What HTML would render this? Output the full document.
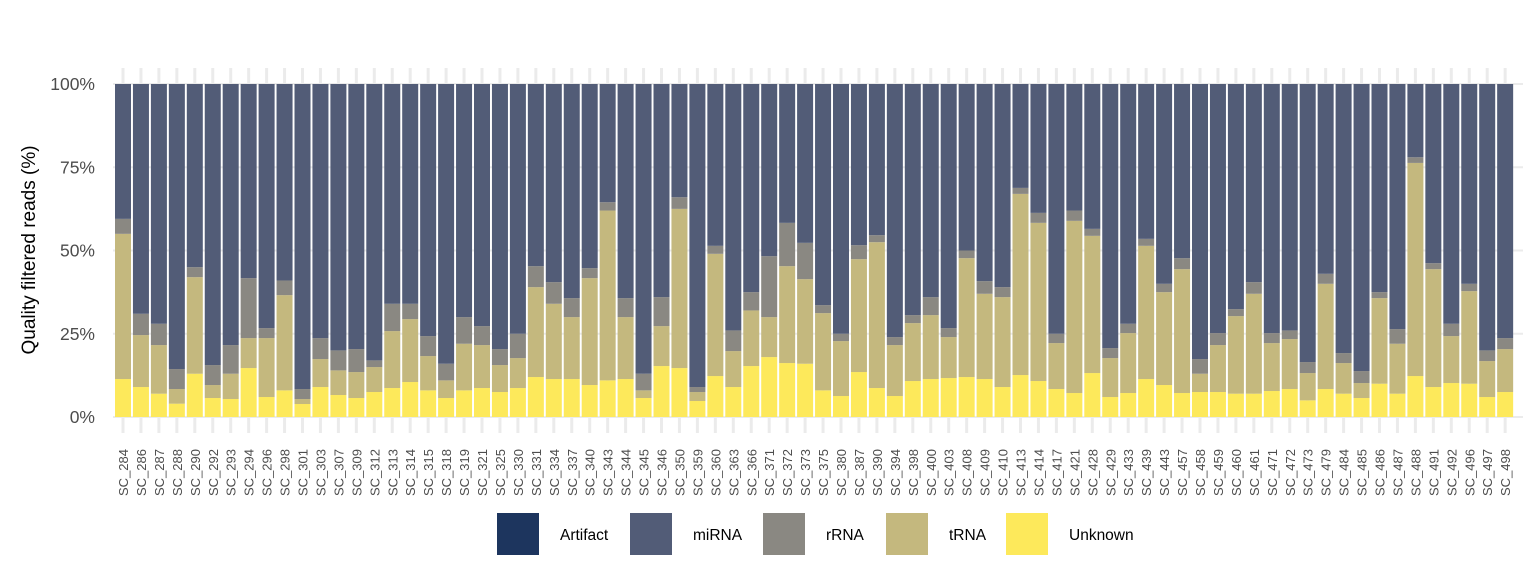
<!DOCTYPE html>
<html><head><meta charset="utf-8"><style>
body{margin:0;background:#fff;}
svg{display:block;font-family:"Liberation Sans",sans-serif;}
</style></head><body>
<svg id="chart" width="1536" height="576" viewBox="0 0 1536 576" xmlns="http://www.w3.org/2000/svg">
<g id="grid"></g>
<g id="bars"></g>
<g id="yaxis"></g>
<g id="xaxis"></g>
<text transform="translate(35,250) rotate(-90)" text-anchor="middle" font-size="19" fill="#000">Quality filtered reads (%)</text>
<g id="legend"></g>
</svg>
<script>
const samples=["284","286","287","288","290","292","293","294","296","298","301","303","307","309","312","313","314","315","318","319","321","325","330","331","334","337","340","343","344","345","346","350","359","360","363","366","371","372","373","375","380","387","390","394","398","400","403","408","409","410","413","414","417","421","428","429","433","439","443","457","458","459","460","461","471","472","473","479","484","485","486","487","488","491","492","496","497","498"];
const unknownPct=[11.4,9,7,4,13,5.7,5.4,14.7,6,8,3.9,9,6.6,5.7,7.5,8.7,10.5,8,5.7,8,8.7,7.5,8.7,12,11.4,11.4,9.6,11,11.4,5.7,15.3,14.7,4.8,12.3,9,15.3,18,16.2,16,8,6.3,13.5,8.7,6.3,10.8,11.4,11.7,12,11.4,9,12.6,10.8,8.4,7.2,13.2,6,7.2,11.4,9.6,7.2,7.5,7.5,7,7,7.8,8.4,5,8.4,7,5.7,10,7,12.3,9,10.2,10,6,7.5];
const trnaPct=[43.6,15.6,14.6,4.4,29,3.9,7.6,9,17.7,28.6,1.5,8.4,7.4,7.8,7.5,17.1,18.9,10.3,5.3,14,12.9,8.1,9,27,22.6,18.6,32.1,51,18.6,2.3,12,47.8,2.7,36.7,10.8,16.7,12,29.1,25.4,23.2,16.5,33.9,43.8,15.3,17.4,19.2,12.3,35.7,25.6,27,54.4,47.5,13.8,51.7,41.2,11.7,18,40,27.9,37.2,5.5,14.1,23.3,30,14.4,15,8.2,31.6,9.2,4.5,25.7,15,64,35.4,14.1,27.8,10.8,12.9];
const rrnaPct=[4.5,6.4,6.4,6,3,6,8.6,18,3,4.4,3,6.3,6,6.9,2,8.2,4.6,6,5,8,5.7,4.8,7.3,6.3,6.5,5.7,3,2.5,5.7,5,8.7,3.5,1.5,2.4,6.2,5.5,18.3,13,10.9,2.4,2.2,4.2,2.1,2.4,2.4,5.4,2.7,2.3,3.8,3,1.8,3,2.8,3.1,2.1,3,2.8,2.1,2.5,3.3,4.4,3.6,2.1,3.5,3,2.6,3.3,3,3,3.6,1.8,4.4,1.7,1.8,3.7,2.2,3.2,3.3];
const artifactPct=samples.map(()=>0);
const yTicks=[0,25,50,75,100];
const categories=["Artifact","miRNA","rRNA","tRNA","Unknown"];
const colors={Artifact:"#1d355e",miRNA:"#525c77",rRNA:"#8a8882",tRNA:"#c4b87e",Unknown:"#fde95b"};

const NS="http://www.w3.org/2000/svg";
const X0=115, STEP=17.95, BW=16, Y0=417, Y100=84;
const xPos=i=>X0+i*STEP;
const yPos=v=>Y0-(v/100)*(Y0-Y100);
function mk(tag,attrs,parent){const e=document.createElementNS(NS,tag);for(const k in attrs)e.setAttribute(k,attrs[k]);parent.appendChild(e);return e;}
const grid=document.getElementById('grid'),bars=document.getElementById('bars'),ya=document.getElementById('yaxis'),xa=document.getElementById('xaxis'),lg=document.getElementById('legend');

samples.forEach((s,i)=>{
  const g=mk('line',{x1:xPos(i)+BW/2,x2:xPos(i)+BW/2,y1:68,y2:433,stroke:'#ebebeb','stroke-width':3},grid);
  
  
});
yTicks.forEach(t=>{
  const l=mk('line',{x1:113,x2:1523,y1:yPos(t),y2:yPos(t),stroke:'#ebebeb','stroke-width':2},grid);
  
  
  const tx=mk('text',{x:95,y:yPos(t)+6,'text-anchor':'end','font-size':17.5,fill:'#4d4d4d'},ya);
  tx.textContent=t+'%';
  
  
});

samples.forEach((s,i)=>{
  const segs=[["Unknown",unknownPct[i]],["tRNA",trnaPct[i]],["rRNA",rrnaPct[i]],["Artifact",artifactPct[i]]];
  let cum=0;
  const tot=unknownPct[i]+trnaPct[i]+rrnaPct[i]+artifactPct[i];
  segs.push(["miRNA",100-tot]);
  segs.forEach(([c,v])=>{
    if(v<=0)return;
    const r=mk('rect',{x:xPos(i),width:BW,y:yPos(cum+v),height:yPos(cum)-yPos(cum+v),fill:colors[c]},bars);
    
    
    cum+=v;
  });
  const cx=xPos(i)+BW/2+5;
  const t=mk('text',{x:cx,y:449,'text-anchor':'end','font-size':13,fill:'#4d4d4d',transform:`rotate(-90 ${cx} 449)`},xa);
  t.textContent='SC_'+s;
  
  
});

const lx=[497,630,763,886,1006];
categories.forEach((c,i)=>{
  const k=mk('rect',{x:lx[i],y:513,width:42,height:42,fill:colors[c]},lg);
  
  
  const t=mk('text',{x:lx[i]+63,y:540,'font-size':15.5,fill:'#000'},lg);
  t.textContent=c;
  
  
});
</script>
</body></html>
